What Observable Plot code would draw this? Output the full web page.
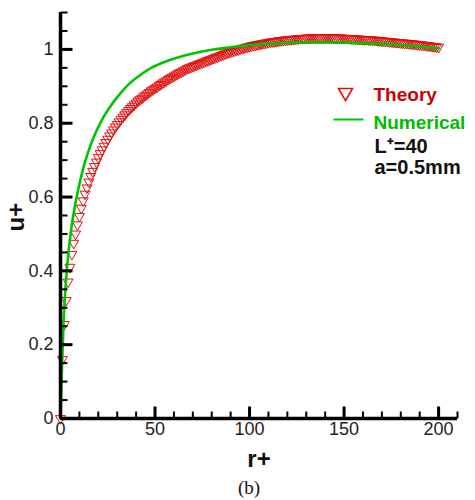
<!DOCTYPE html>
<html>
<head>
<meta charset="utf-8">
<script src="https://cdn.jsdelivr.net/npm/d3@7"></script>
<script src="https://cdn.jsdelivr.net/npm/@observablehq/plot@0.6"></script>
<style>
  body { margin: 0; background: #fff; }
  #chart svg { display: block; }
  #caption {
    width: 475px; height: 30px; line-height: 36px;
    padding-left: 238px; box-sizing: border-box;
    font-family: "Liberation Serif", "Times New Roman", serif; font-size: 19px; color: #111;
  }
</style>
</head>
<body>
<div id="chart"></div>
<div id="caption">(b)</div>
<script>
// Theory profile u+ sampled at r+ = 0, 1, 2, ... 200
const theoryU = [
  0, 0.16, 0.255, 0.32, 0.37, 0.41, 0.445, 0.475, 0.50, 0.525,
  0.548, 0.57, 0.59, 0.608, 0.625, 0.641, 0.656, 0.67, 0.683, 0.695,
  0.707, 0.718, 0.728, 0.738, 0.748, 0.757, 0.766, 0.774, 0.782, 0.79,
  0.797, 0.804, 0.811, 0.817, 0.823, 0.829, 0.835, 0.84, 0.845, 0.85,
  0.855, 0.86, 0.864, 0.868, 0.872, 0.876, 0.88, 0.884, 0.888, 0.891,
  0.895, 0.898, 0.902, 0.905, 0.909, 0.912, 0.915, 0.919, 0.922, 0.925,
  0.928, 0.931, 0.934, 0.937, 0.939, 0.942, 0.945, 0.948, 0.95, 0.952,
  0.954, 0.956, 0.958, 0.96, 0.962, 0.964, 0.966, 0.968, 0.97, 0.972,
  0.974, 0.976, 0.978, 0.98, 0.982, 0.984, 0.986, 0.988, 0.99, 0.992,
  0.993, 0.995, 0.996, 0.998, 0.999, 1.001, 1.003, 1.004, 1.006, 1.007,
  1.008, 1.01, 1.011, 1.012, 1.013, 1.014, 1.015, 1.016, 1.017, 1.018,
  1.019, 1.02, 1.021, 1.021, 1.022, 1.023, 1.024, 1.024, 1.025, 1.026,
  1.026, 1.027, 1.027, 1.028, 1.028, 1.029, 1.029, 1.03, 1.03, 1.03,
  1.031, 1.031, 1.031, 1.031, 1.032, 1.032, 1.032, 1.032, 1.032, 1.032,
  1.032, 1.032, 1.032, 1.032, 1.032, 1.031, 1.031, 1.031, 1.031, 1.031,
  1.03, 1.03, 1.03, 1.03, 1.029, 1.029, 1.029, 1.028, 1.028, 1.028,
  1.027, 1.027, 1.027, 1.026, 1.026, 1.026, 1.025, 1.025, 1.024, 1.024,
  1.023, 1.023, 1.022, 1.022, 1.021, 1.021, 1.02, 1.02, 1.019, 1.019,
  1.018, 1.018, 1.017, 1.017, 1.016, 1.016, 1.015, 1.015, 1.014, 1.013,
  1.013, 1.012, 1.012, 1.011, 1.01, 1.01, 1.009, 1.008, 1.008, 1.007,
  1.006
];
const theoryR = d3.range(theoryU.length);

// Numerical solution
const numericalR = [0, 0.5, 1, 1.5, 2, 3, 4, 5, 6, 8, 10, 13, 17, 22, 27, 32, 37, 42, 48, 55, 62, 70, 80, 90, 100, 120, 140, 160, 180, 200];
const numericalU = [0, 0.09, 0.17, 0.24, 0.30, 0.38, 0.44, 0.485, 0.525, 0.585, 0.635, 0.695, 0.755, 0.81, 0.85, 0.883, 0.91, 0.93, 0.95, 0.966, 0.978, 0.989, 0.999, 1.006, 1.012, 1.018, 1.019, 1.017, 1.012, 1.003];

// Axis ticks
const xMajor = [0, 50, 100, 150, 200];
const xMinor = d3.range(0, 211, 10);
const yMajor = [0, 0.2, 0.4, 0.6, 0.8, 1];
const yMinor = d3.range(0, 23).map(i => +(i * 0.05).toFixed(2));

// Legend and annotation text
const legendTheory = "Theory";
const legendNumerical = "Numerical";
const noteL = "L\u207A=40";
const noteA = "a=0.5mm";

const red = "#e01010";
const green = "#00c400";
const font = "Arial, 'Liberation Sans', Helvetica, sans-serif";

const theory = theoryR.map((r, i) => ({r, u: theoryU[i]}));
const numerical = numericalR.map((r, i) => ({r, u: numericalU[i]}));

// Inward tick glyphs and the legend line swatch
const tickUp = len => ({draw(ctx) { ctx.moveTo(0, 0); ctx.lineTo(0, -len); }});
const tickRight = len => ({draw(ctx) { ctx.moveTo(0, 0); ctx.lineTo(len, 0); }});
const hLine = {draw(ctx) { ctx.moveTo(-15, 0); ctx.lineTo(15, 0); }};

const plot = Plot.plot({
  width: 475,
  height: 470,
  marginLeft: 60,
  marginRight: 18,
  marginTop: 12,
  marginBottom: 52,
  style: {fontFamily: font, background: "#fff", color: "#111", overflow: "visible"},
  x: {domain: [0, 210]},
  y: {domain: [0, 1.1]},
  marks: [
    // data
    Plot.dot(theory, {x: "r", y: "u", symbol: "triangle", rotate: 180, r: 3.7, stroke: red, strokeWidth: 1, fill: "none"}),
    Plot.line(numerical, {x: "r", y: "u", stroke: green, strokeWidth: 2.6, curve: "catmull-rom"}),
    // axis lines
    Plot.ruleX([0], {stroke: "#000", strokeWidth: 3.5}),
    Plot.ruleY([0], {stroke: "#000", strokeWidth: 3.5}),
    // inward ticks
    Plot.dot(xMinor, {x: d => d, frameAnchor: "bottom", symbol: tickUp(7), stroke: "#000", strokeWidth: 2}),
    Plot.dot(xMajor, {x: d => d, frameAnchor: "bottom", symbol: tickUp(12), stroke: "#000", strokeWidth: 3}),
    Plot.dot(yMinor, {y: d => d, frameAnchor: "left", symbol: tickRight(7), stroke: "#000", strokeWidth: 2}),
    Plot.dot(yMajor, {y: d => d, frameAnchor: "left", symbol: tickRight(12), stroke: "#000", strokeWidth: 3}),
    // tick labels
    Plot.axisX({ticks: xMajor, anchor: "bottom", tickSize: 0, tickPadding: 4, fontSize: 18, fill: "#222", label: null}),
    Plot.axisY({ticks: yMajor, anchor: "left", tickSize: 0, tickPadding: 7, fontSize: 18, fill: "#222", label: null, tickFormat: d => String(d)}),
    // axis titles
    Plot.text(["r+"], {frameAnchor: "bottom", dy: 41, fontSize: 24, fontWeight: "bold", fill: "#111", lineAnchor: "middle"}),
    Plot.text(["u+"], {frameAnchor: "left", dx: -44, dy: 16, rotate: -90, fontSize: 24, fontWeight: "bold", fill: "#111", lineAnchor: "middle"}),
    // legend
    Plot.dot([0], {frameAnchor: "top-left", dx: 285, dy: 80, symbol: "triangle", rotate: 180, r: 5.2, stroke: red, strokeWidth: 1.6, fill: "none"}),
    Plot.text([legendTheory], {frameAnchor: "top-left", dx: 313, dy: 82, textAnchor: "start", lineAnchor: "middle", fontSize: 19, fontWeight: "bold", fill: "#cc0000"}),
    Plot.dot([0], {frameAnchor: "top-left", dx: 288, dy: 107, symbol: hLine, stroke: green, strokeWidth: 2}),
    Plot.text([legendNumerical], {frameAnchor: "top-left", dx: 313, dy: 110, textAnchor: "start", lineAnchor: "middle", fontSize: 19, fontWeight: "bold", fill: "#00bb00"}),
    Plot.text([noteL], {frameAnchor: "top-left", dx: 314, dy: 134, textAnchor: "start", lineAnchor: "middle", fontSize: 20, fontWeight: "bold", fill: "#111"}),
    Plot.text([noteA], {frameAnchor: "top-left", dx: 314, dy: 155, textAnchor: "start", lineAnchor: "middle", fontSize: 20, fontWeight: "bold", fill: "#111"})
  ]
});

document.getElementById("chart").append(plot);
</script>
</body>
</html>
